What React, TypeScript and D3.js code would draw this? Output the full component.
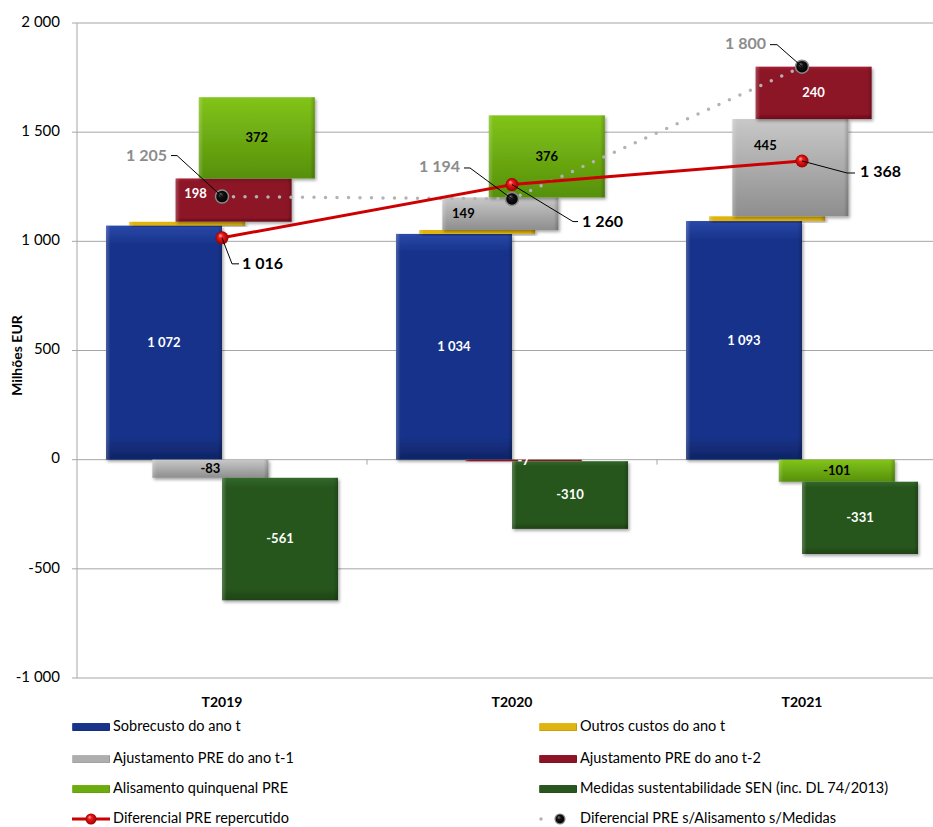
import React from 'react';
import * as d3 from 'd3';

const categories = ['T2019', 'T2020', 'T2021'];
const seriesNames = [
  'Sobrecusto do ano t',
  'Outros custos do ano t',
  'Ajustamento PRE do ano t-1',
  'Ajustamento PRE do ano t-2',
  'Alisamento quinquenal PRE',
  'Medidas sustentabilidade SEN (inc. DL 74/2013)',
];
const sobrecusto = [1072, 1034, 1093];
const outrosCustos = [18, 18, 22];
const ajustamentoT1 = [-83, 149, 445];
const ajustamentoT2 = [198, -7, 240];
const alisamento = [372, 376, -101];
const medidas = [-561, -310, -331];
const diferencialRepercutido = [1016, 1260, 1368];
const diferencialSemAlisamento = [1205, 1194, 1800];
const yTicks = [-1000, -500, 0, 500, 1000, 1500, 2000];
const lineNames = ['Diferencial PRE repercutido', 'Diferencial PRE s/Alisamento s/Medidas'];

const seriesValues = [sobrecusto, outrosCustos, ajustamentoT1, ajustamentoT2, alisamento, medidas];

// look of each series: [top, middle, bottom] colours, label colour
const seriesStyle = [
  { top: '#2a48a8', mid: '#17338a', bot: '#0f2566', label: '#fff' },
  { top: '#f5d53a', mid: '#e0b410', bot: '#a47e05', label: null },
  { top: '#c8c8c8', mid: '#aeaeae', bot: '#8e8e8e', label: '#000' },
  { top: '#a82236', mid: '#8c1426', bot: '#6a0c1a', label: '#fff' },
  { top: '#82c41a', mid: '#6cac0e', bot: '#56900a', label: '#000' },
  { top: '#32682a', mid: '#28561e', bot: '#1e4315', label: '#fff' },
];

// hand-moved bar labels (series index -> category index -> [dx, dy])
const labelNudge = {
  '3-0': [-38, -6],
  '2-1': [-37, 0],
  '2-2': [-25, -22],
};

// leader-line callouts relative to the marker: elbow, end of line, text anchor
const redCallouts = [
  { elbow: [10, 26], end: [17, 26], text: [20, 27], anchor: 'start' },
  { elbow: [61, 37], end: [66, 37], text: [70, 38], anchor: 'start' },
  { elbow: [45, 12], end: [53, 12], text: [58, 12], anchor: 'start' },
];
const grayCallouts = [
  { elbow: [-45, -41], end: [-51, -41], text: [-55, -40], anchor: 'end' },
  { elbow: [-42, -31], end: [-48, -31], text: [-52, -31], anchor: 'end' },
  { elbow: [-25, -22], end: [-32, -22], text: [-36, -22], anchor: 'end' },
];

const width = 933;
const height = 827;
const margin = { top: 23, left: 77, bottom: 149 };
const font = 'Lato, "Open Sans", sans-serif';

const locale = d3.formatLocale({ decimal: ',', thousands: ' ', grouping: [3], currency: ['', ''], minus: '-' });
const fmt = locale.format(',d');

const App = () => {
  const x = d3.scaleBand().domain(categories).range([margin.left, margin.left + 870]).padding(0);
  const y = d3.scaleLinear().domain([-1000, 2000]).range([height - margin.bottom, margin.top]);

  const band = x.bandwidth();
  const barW = band * 0.4;
  const step = band * 0.08;
  const clusterW = barW + step * 5;
  const cx = (c: string) => (x(c) as number) + band / 2;

  const table = categories.map((c, ci) => {
    const row: any = { cat: c };
    seriesNames.forEach((s, si) => (row[s] = seriesValues[si][ci]));
    return row;
  });
  const stacked = d3.stack<any>().keys(seriesNames).offset(d3.stackOffsetDiverging)(table);

  const redLine = d3.line<number>().x((_, i) => cx(categories[i])).y(d => y(d));
  const shadeId = (i: number) => `grad${i}`;

  const swatch = (i: number, sx: number, sy: number) => (
    <g>
      <rect x={sx} y={sy - 4} width={38} height={8} fill={`url(#${shadeId(i)})`} rx={1} />
      <rect x={sx} y={sy - 4} width={38} height={8} fill="url(#sides)" rx={1} />
    </g>
  );

  const legendRows = [727, 759, 789, 819];
  const legendCols = [72, 539];
  const legendItems = [...seriesNames, ...lineNames];

  return (
    <svg width={width} height={height} style={{ position: 'absolute', left: 0, top: 0 }} fontFamily={font}>
      <defs>
        {seriesStyle.map((s, i) => (
          <linearGradient key={i} id={shadeId(i)} x1="0" y1="0" x2="0" y2="1">
            <stop offset="0" stopColor={s.top} />
            <stop offset="0.08" stopColor={s.mid} />
            <stop offset="0.9" stopColor={s.mid} />
            <stop offset="1" stopColor={s.bot} />
          </linearGradient>
        ))}
        {[2, 4].map(i => (
          <linearGradient key={i} id={`soft${i}`} x1="0" y1="0" x2="0" y2="1">
            <stop offset="0" stopColor={seriesStyle[i].top} />
            <stop offset="1" stopColor={seriesStyle[i].bot} />
          </linearGradient>
        ))}
        <linearGradient id="sides" x1="0" y1="0" x2="1" y2="0">
          <stop offset="0" stopColor="#fff" stopOpacity={0.22} />
          <stop offset="0.04" stopColor="#fff" stopOpacity={0} />
          <stop offset="0.96" stopColor="#000" stopOpacity={0} />
          <stop offset="1" stopColor="#000" stopOpacity={0.2} />
        </linearGradient>
        <filter id="shadow" x="-10%" y="-10%" width="130%" height="140%">
          <feDropShadow dx="1.5" dy="2" stdDeviation="1.5" floodColor="#000" floodOpacity="0.35" />
        </filter>
        <radialGradient id="redBall" cx="0.5" cy="0.5" r="0.5" fx="0.35" fy="0.3">
          <stop offset="0" stopColor="#ffb0b0" />
          <stop offset="0.35" stopColor="#ee1c1c" />
          <stop offset="1" stopColor="#9a0000" />
        </radialGradient>
        <radialGradient id="blackBall" cx="0.5" cy="0.5" r="0.5" fx="0.35" fy="0.3">
          <stop offset="0" stopColor="#777" />
          <stop offset="0.4" stopColor="#111" />
          <stop offset="1" stopColor="#000" />
        </radialGradient>
      </defs>

      {/* gridlines */}
      {yTicks.map(t => (
        <g key={t}>
          <line x1={margin.left - 5} x2={width} y1={y(t)} y2={y(t)} stroke="#a6a6a6" strokeWidth={1} />
          <text x={60} y={y(t)} textAnchor="end" dominantBaseline="middle" fontSize={15} fill="#000">
            {fmt(t)}
          </text>
        </g>
      ))}
      <line x1={margin.left} x2={margin.left} y1={y(2000)} y2={y(-1000)} stroke="#a6a6a6" />
      {categories.slice(1).map(c => (
        <line key={c} x1={x(c)} x2={x(c)} y1={y(0)} y2={y(0) + 5} stroke="#a6a6a6" />
      ))}
      <text
        transform={`translate(18, ${(y(2000) + y(-1000)) / 2 + 5}) rotate(-90)`}
        textAnchor="middle"
        dominantBaseline="middle"
        fontSize={14}
        fontWeight="bold"
      >
        Milhões EUR
      </text>
      {categories.map(c => (
        <text key={c} x={cx(c)} y={y(-1000) + 25} textAnchor="middle" dominantBaseline="middle" fontSize={14}
          fontWeight="bold">
          {c}
        </text>
      ))}

      {/* bars */}
      {stacked.map((layer, si) =>
        layer.map((d, ci) => {
          const bx = cx(categories[ci]) - clusterW / 2 + si * step;
          const y0 = y(Math.max(d[0], d[1]));
          const y1 = y(Math.min(d[0], d[1]));
          const fill = si === 2 || si === 4 ? `url(#soft${si})` : `url(#${shadeId(si)})`;
          return (
            <g key={`${si}-${ci}`} filter="url(#shadow)">
              <rect x={bx} y={y0} width={barW} height={Math.max(y1 - y0, 1)} fill={fill} />
              <rect x={bx} y={y0} width={barW} height={Math.max(y1 - y0, 1)} fill="url(#sides)" />
            </g>
          );
        })
      )}

      {/* lines */}
      <path
        d={redLine(diferencialSemAlisamento) as string}
        fill="none"
        stroke="#b3b3b3"
        strokeWidth={3.5}
        strokeLinecap="round"
        strokeDasharray="0 11.5"
      />
      <path d={redLine(diferencialRepercutido) as string} fill="none" stroke="#cc0000" strokeWidth={3} />
      {diferencialSemAlisamento.map((v, i) => (
        <circle key={i} cx={cx(categories[i])} cy={y(v)} r={6.5} fill="url(#blackBall)" stroke="#8a8a8a"
          strokeWidth={1.5} />
      ))}
      {diferencialRepercutido.map((v, i) => (
        <circle key={i} cx={cx(categories[i])} cy={y(v)} r={6.5} fill="url(#redBall)" />
      ))}

      {/* bar labels */}
      {stacked.map((layer, si) =>
        layer.map((d, ci) => {
          const color = seriesStyle[si].label;
          if (!color) return null;
          const nudge = (labelNudge as any)[`${si}-${ci}`] || [0, 0];
          const bx = cx(categories[ci]) - clusterW / 2 + si * step + barW / 2;
          const by = y((d[0] + d[1]) / 2);
          return (
            <text
              key={`${si}-${ci}`}
              x={bx + nudge[0]}
              y={by + nudge[1] + 1}
              textAnchor="middle"
              dominantBaseline="middle"
              fontSize={13}
              fontWeight="bold"
              fill={color}
            >
              {fmt(seriesValues[si][ci])}
            </text>
          );
        })
      )}

      {/* callouts */}
      {[
        { values: diferencialRepercutido, callouts: redCallouts, color: '#000' },
        { values: diferencialSemAlisamento, callouts: grayCallouts, color: '#8c8c8c' },
      ].map((g, gi) =>
        g.values.map((v, i) => {
          const px = cx(categories[i]);
          const py = y(v);
          const c = g.callouts[i];
          return (
            <g key={`${gi}-${i}`}>
              <polyline
                points={`${px},${py} ${px + c.elbow[0]},${py + c.elbow[1]} ${px + c.end[0]},${py + c.end[1]}`}
                fill="none"
                stroke="#000"
                strokeWidth={1}
              />
              <text
                x={px + c.text[0]}
                y={py + c.text[1]}
                textAnchor={c.anchor as any}
                dominantBaseline="middle"
                fontSize={16}
                fontWeight="bold"
                fill={g.color}
              >
                {fmt(v)}
              </text>
            </g>
          );
        })
      )}

      {/* legend */}
      {legendItems.map((name, i) => {
        const lx = legendCols[i % 2];
        const ly = legendRows[Math.floor(i / 2)];
        let mark;
        if (i < 6) mark = swatch(i, lx, ly);
        else if (i === 6)
          mark = (
            <g>
              <line x1={lx} x2={lx + 38} y1={ly} y2={ly} stroke="#cc0000" strokeWidth={3} />
              <circle cx={lx + 19} cy={ly} r={5.5} fill="url(#redBall)" />
            </g>
          );
        else
          mark = (
            <g>
              <line x1={lx + 2} x2={lx + 38} y1={ly} y2={ly} stroke="#b3b3b3" strokeWidth={3.5}
                strokeLinecap="round" strokeDasharray="0 18" />
              <circle cx={lx + 21} cy={ly} r={5} fill="url(#blackBall)" stroke="#8a8a8a" strokeWidth={1.2} />
            </g>
          );
        return (
          <g key={name}>
            {mark}
            <text x={lx + 41} y={ly} dominantBaseline="middle" fontSize={14.5} fill="#000">
              {name}
            </text>
          </g>
        );
      })}
    </svg>
  );
};

export default App;
